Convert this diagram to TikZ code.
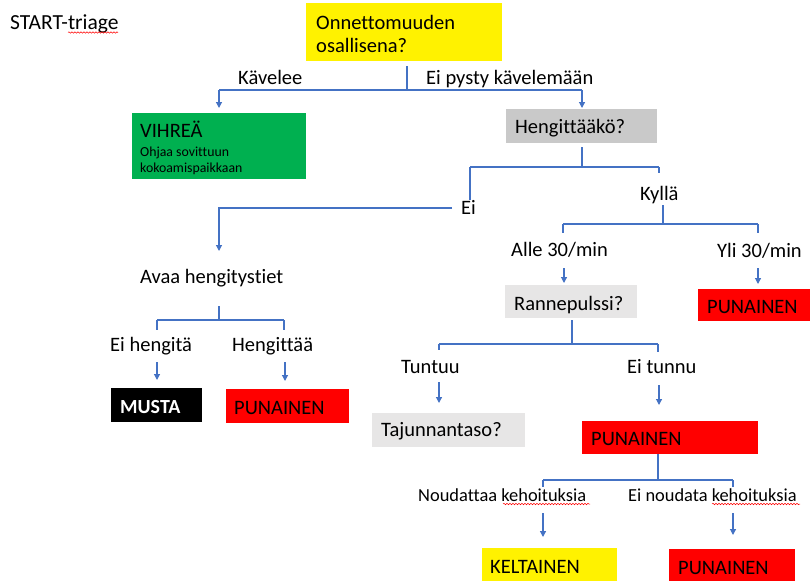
\documentclass[tikz,border=0pt]{standalone}
\usepackage{fontspec}
\setmainfont{Carlito}[Ligatures=CommonOff]
\usetikzlibrary{arrows.meta,decorations.pathmorphing}
\definecolor{lnblue}{HTML}{4472C4}
\definecolor{boxgreen}{HTML}{00B050}
\definecolor{boxgray}{HTML}{C9C9C9}
\definecolor{boxlight}{HTML}{E7E6E6}
\begin{document}
\begin{tikzpicture}[x=1pt,y=-1pt,
  ln/.style={draw=lnblue,line width=1.2pt},
  arr/.style={ln,-{Triangle[length=6pt,width=6pt]}},
  lbl/.style={anchor=base west,inner sep=0pt,font=\fontsize{20.5}{24}\selectfont},
  lbls/.style={anchor=base west,inner sep=0pt,font=\fontsize{18.4}{22}\selectfont},
  small/.style={anchor=base west,inner sep=0pt,font=\fontsize{13.8}{17}\selectfont},
  boxr/.style={anchor=north west,inner sep=0pt,draw=none},
  squig/.style={draw=red,line width=0.5pt,decorate,decoration={snake,amplitude=0.7pt,segment length=3pt}}]
\useasboundingbox (0,0) rectangle (810,581);

% title
\node[lbl,font=\fontsize{21.5}{25}\selectfont] (title) at (10,29) {START-triage};
\draw[squig] (68,32.5) -- (118,32.5);

% boxes
\node[boxr,fill=yellow,minimum width=196pt,minimum height=58pt] (q1) at (306,3) {};
\node[lbl] (q1a) at (316,29) {Onnettomuuden};
\node[lbl] (q1b) at (316,52) {osallisena?};

\node[boxr,fill=boxgreen,minimum width=174pt,minimum height=66pt] (vihr) at (132,113) {};
\node[lbl] (vihrt) at (140,137) {VIHREÄ};
\node[small] (vihr1) at (140,156.5) {Ohjaa sovittuun};
\node[small] (vihr2) at (140,172.5) {kokoamispaikkaan};

\node[boxr,fill=boxgray,minimum width=151pt,minimum height=34pt] (heng) at (506,109) {};
\node[lbl] (hengt) at (515,133) {Hengittääkö?};

\node[boxr,fill=boxlight,minimum width=132pt,minimum height=33pt] (ranne) at (505,285) {};
\node[lbl] (rannet) at (514,310) {Rannepulssi?};

\node[boxr,fill=red,minimum width=112pt,minimum height=32pt] (pun1) at (698,289) {};
\node[lbl] (pun1t) at (707,313) {PUNAINEN};

\node[boxr,fill=boxlight,minimum width=153pt,minimum height=34pt] (taju) at (372,413) {};
\node[lbl] (tajut) at (381,436) {Tajunnantaso?};

\node[boxr,fill=red,minimum width=176pt,minimum height=33pt] (pun2) at (582,421) {};
\node[lbl] (pun2t) at (591,445) {PUNAINEN};

\node[boxr,fill=black,minimum width=91pt,minimum height=34pt] (musta) at (111,388) {};
\node[lbl,text=white,font=\fontsize{20}{24}\selectfont\bfseries] (mustat) at (120,413) {MUSTA};

\node[boxr,fill=red,minimum width=123pt,minimum height=34pt] (pun3) at (226,389) {};
\node[lbl] (pun3t) at (234,414) {PUNAINEN};

\node[boxr,fill=yellow,minimum width=135pt,minimum height=33pt] (kelt) at (482,548) {};
\node[lbl] (keltt) at (490,573) {KELTAINEN};

\node[boxr,fill=red,minimum width=126pt,minimum height=32pt] (pun4) at (669,549) {};
\node[lbl] (pun4t) at (678,574) {PUNAINEN};

% labels
\node[lbl] (kav) at (238,84) {Kävelee};
\node[lbl] (eip) at (426,84) {Ei pysty kävelemään};
\node[lbl] (ei) at (461,214) {Ei};
\node[lbl] (kylla) at (640,200) {Kyllä};
\node[lbl] (avaa) at (140,283) {Avaa hengitystiet};
\node[lbl] (eih) at (110,351) {Ei hengitä};
\node[lbl] (hgt) at (232,351) {Hengittää};
\node[lbl] (alle) at (511,256) {Alle 30/min};
\node[lbl] (yli) at (717,257) {Yli 30/min};
\node[lbl] (tunt) at (401,373) {Tuntuu};
\node[lbl] (eitu) at (627,373) {Ei tunnu};
\node[lbls] (noud) at (418,501) {Noudattaa kehoituksia};
\node[lbls] (einoud) at (628,501) {Ei noudata kehoituksia};
\draw[squig] (503,504) -- (590,504);
\draw[squig] (712,504) -- (800,504);

% tree 1
\coordinate (t1l) at (219,90);
\coordinate (t1r) at (582,90);
\draw[ln] (407,66) -- (407,90);
\draw[ln] (t1l) -- (t1r);
\draw[arr] (t1l) -- ([yshift=5pt]vihr.north -| t1l);
\draw[arr] (t1r) -- ([yshift=1pt]heng.north -| t1r);

% tree 2
\coordinate (t2l) at (470,167);
\coordinate (t2r) at (659,167);
\draw[ln] (582,147) -- (582,167);
\draw[ln] (t2l) -- (t2r);
\draw[ln] (t2l) -- (470,200);
\draw[ln] (t2r) -- (659,173);
\coordinate (eil) at (219,208);
\draw[arr] (452,208) -- (eil) -- (219,251);

% tree left
\coordinate (tll) at (157,320);
\coordinate (tlr) at (284,320);
\draw[ln] (219,306) -- (219,320);
\draw[ln] (tll) -- (tlr);
\draw[ln] (tll) -- (157,330);
\draw[ln] (tlr) -- (284,330);
\draw[arr] (157,362) -- ([yshift=8pt]musta.north -| tll);
\draw[arr] (285,362) -- (285,381);

% tree 3
\coordinate (t3l) at (563,224);
\coordinate (t3r) at (758,224);
\draw[ln] (663,205) -- (663,224);
\draw[ln] (t3l) -- (t3r);
\draw[ln] (t3l) -- (563,233);
\draw[ln] (t3r) -- (758,233);
\draw[arr] (564,268) -- (564,283);
\draw[arr] (758,268) -- (758,284);

% tree 4
\coordinate (t4l) at (439,344);
\coordinate (t4r) at (658,344);
\draw[ln] (572,320) -- (572,344);
\draw[ln] (t4l) -- (t4r);
\draw[ln] (t4l) -- (439,350);
\draw[ln] (t4r) -- (658,352);
\draw[arr] (439,382) -- (439,403);
\draw[arr] (659,385) -- (659,405);

% tree 5
\coordinate (t5l) at (543,480);
\coordinate (t5r) at (733,480);
\draw[ln] (658,454) -- (658,480);
\draw[ln] (t5l) -- (t5r);
\draw[ln] (t5l) -- (543,487);
\draw[ln] (t5r) -- (733,487);
\draw[arr] (543,513) -- (543,537);
\draw[arr] (733,513) -- (733,535);
\end{tikzpicture}
\end{document}
